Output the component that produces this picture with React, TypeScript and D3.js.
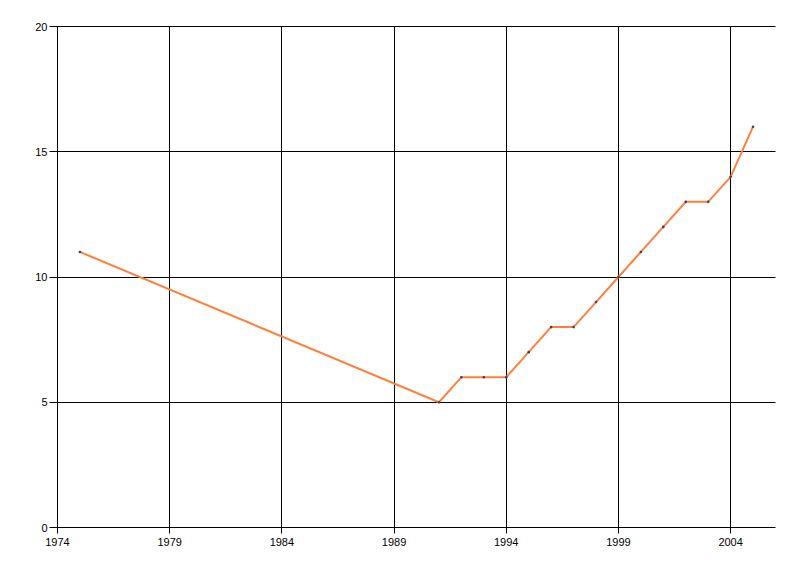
import * as d3 from "d3";
import { useEffect, useRef } from "react";

const years = [1975, 1991, 1992, 1993, 1994, 1995, 1996, 1997, 1998, 1999, 2000, 2001, 2002, 2003, 2004, 2005];
const values = [11, 5, 6, 6, 6, 7, 8, 8, 9, 10, 11, 12, 13, 13, 14, 16];
const xTicks = [1974, 1979, 1984, 1989, 1994, 1999, 2004];
const yTicks = [0, 5, 10, 15, 20];

export default function App() {
  const ref = useRef<SVGSVGElement | null>(null);
  useEffect(() => {
    if (!ref.current) return;
    const svg = d3.select(ref.current);
    svg.selectAll("*").remove();
    const w = 800;
    const h = 576;
    const left = 57.5;
    const right = 775.5;
    const top = 26.5;
    const bottom = 527.5;
    const x = d3.scaleLinear().domain([1974, 2006]).range([left, right]);
    const y = d3.scaleLinear().domain([0, 20]).range([bottom, top]);
    const font = "'Liberation Sans', Arial, sans-serif";
    const px = (v: number) => Math.floor(v) + 0.5;

    svg.append("rect").attr("width", w).attr("height", h).attr("fill", "#fff");

    // vertical grid + ticks
    svg.append("g")
      .selectAll("line")
      .data(xTicks)
      .enter()
      .append("line")
      .attr("x1", (d) => px(x(d)))
      .attr("x2", (d) => px(x(d)))
      .attr("y1", top)
      .attr("y2", bottom + 6)
      .attr("stroke", "#000")
      .attr("stroke-width", 1);

    // horizontal grid + ticks
    svg.append("g")
      .selectAll("line")
      .data(yTicks)
      .enter()
      .append("line")
      .attr("x1", left - 8)
      .attr("x2", right)
      .attr("y1", (d) => px(y(d)))
      .attr("y2", (d) => px(y(d)))
      .attr("stroke", "#000")
      .attr("stroke-width", 1);

    svg.append("g")
      .selectAll("text")
      .data(xTicks)
      .enter()
      .append("text")
      .attr("x", (d) => x(d))
      .attr("y", bottom + 18)
      .attr("text-anchor", "middle")
      .attr("font-family", font)
      .attr("font-size", "11px")
      .attr("fill", "#000")
      .text((d) => String(d));

    svg.append("g")
      .selectAll("text")
      .data(yTicks)
      .enter()
      .append("text")
      .attr("x", left - 10)
      .attr("y", (d) => y(d) + 4)
      .attr("text-anchor", "end")
      .attr("font-family", font)
      .attr("font-size", "11px")
      .attr("fill", "#000")
      .text((d) => String(d));

    const pts = years.map((yr, i) => [yr, values[i]] as [number, number]);
    const line = d3.line<[number, number]>().x((d) => x(d[0])).y((d) => y(d[1]));
    svg.append("path")
      .datum(pts)
      .attr("d", line)
      .attr("fill", "none")
      .attr("stroke", "#ff7f3f")
      .attr("stroke-width", 2);

    svg.append("g")
      .selectAll("circle")
      .data(pts)
      .enter()
      .append("circle")
      .attr("cx", (d) => x(d[0]))
      .attr("cy", (d) => y(d[1]))
      .attr("r", 1.3)
      .attr("fill", "#444");
  }, []);
  return (
    <svg
      ref={ref}
      width={800}
      height={576}
      viewBox="0 0 800 576"
      style={{ position: "absolute", left: 0, top: 0 }}
    />
  );
}
